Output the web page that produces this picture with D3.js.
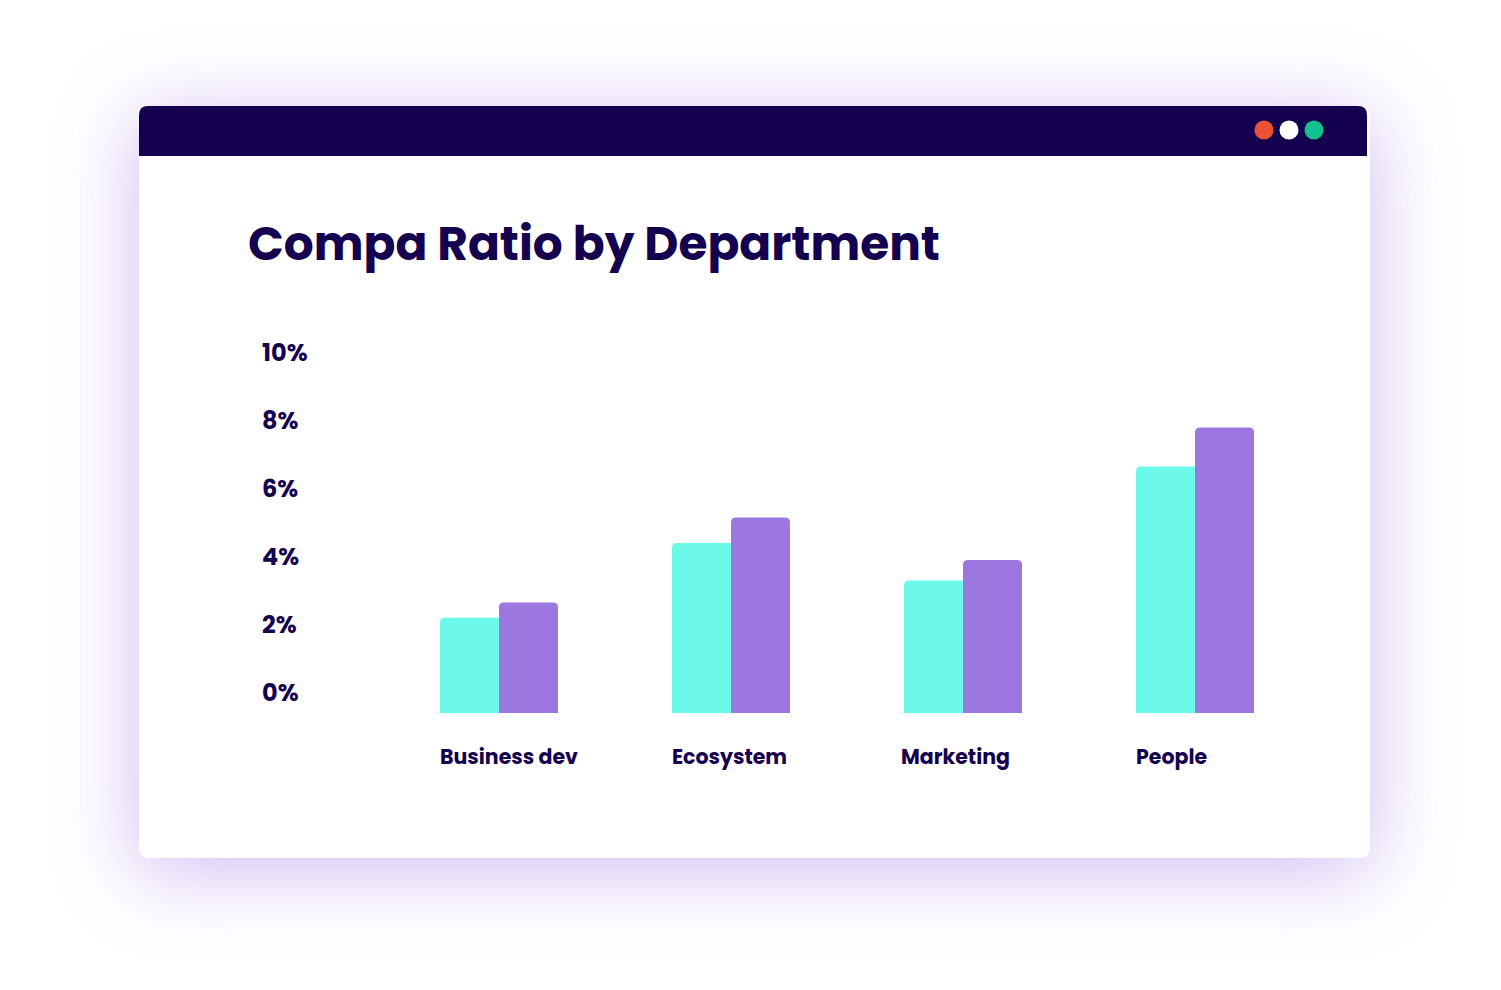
<!DOCTYPE html>
<html><head><meta charset="utf-8">
<script src="https://cdn.jsdelivr.net/npm/d3@7"></script>
<style>html,body{margin:0;padding:0;background:#fff;}svg{display:block;}</style>
</head><body>
<script>
const categories = ["Business dev", "Ecosystem", "Marketing", "People"];
const series1 = [2.8, 5.0, 3.9, 7.25];   // cyan
const series2 = [3.25, 5.75, 4.5, 8.4];  // purple
const yTicks = [0, 2, 4, 6, 8, 10];
const title = "Compa Ratio by Department";

const W = 1501, H = 990;
const navy = "#14004f";
const svg = d3.select("body").append("svg").attr("width", W).attr("height", H);
const font = "'Poppins','Open Sans','Noto Sans',sans-serif";

const defs = svg.append("defs");
const f = defs.append("filter").attr("id","glow").attr("x","-30%").attr("y","-30%").attr("width","160%").attr("height","160%");
f.append("feGaussianBlur").attr("stdDeviation", 40);

// shadow
svg.append("rect").attr("x",135).attr("y",115).attr("width",1239).attr("height",758).attr("rx",20)
  .attr("fill","#c2aaf0").attr("opacity",0.75).attr("filter","url(#glow)");
// card body
svg.append("rect").attr("x",139).attr("y",106).attr("width",1231).attr("height",752).attr("rx",9).attr("fill","#fff");
// header
svg.append("path").attr("fill",navy)
  .attr("d","M139,156 V115 Q139,106 148,106 H1358 Q1367,106 1367,115 V156 Z");
[["#ee5233",1264],["#ffffff",1289],["#12c18d",1314]].forEach(([c,x])=>{
  svg.append("circle").attr("cx",x).attr("cy",130).attr("r",9.5).attr("fill",c);
});

// title
const t = svg.append("text").attr("x",248).attr("y",260).attr("fill",navy)
  .attr("font-family",font).attr("font-weight",700).attr("font-size",46).text(title);
const tw = t.node().getComputedTextLength();
t.attr("font-size", 46*692/tw);

// scales
const y = d3.scaleLinear().domain([0,10]).range([713,373]);
const x0 = d3.scaleBand().domain(categories).range([440, 440+232*4]).paddingInner(0).paddingOuter(0);
const barW = 59;

// y labels
svg.append("g").selectAll("text").data(yTicks).join("text")
  .attr("x",262).attr("y",d=>y(d)-20+8)
  .attr("fill",navy).attr("font-family",font).attr("font-weight",700).attr("font-size",24)
  .text(d=>d+"%");

function topRounded(x,yTop,w,h,rl,rr){
  return `M${x},${yTop+h} V${yTop+rl} Q${x},${yTop} ${x+rl},${yTop} H${x+w-rr} Q${x+w},${yTop} ${x+w},${yTop+rr} V${yTop+h} Z`;
}

const labelDx = [0, 0, -3, 0];
const g = svg.append("g");
categories.forEach((c,i)=>{
  const gx = x0(c);
  const v1 = series1[i], v2 = series2[i];
  g.append("path").attr("fill","#6cf9e8")
    .attr("d", topRounded(gx, y(v1), barW, y(0)-y(v1), 5, 0));
  g.append("path").attr("fill","#9b77df")
    .attr("d", topRounded(gx+barW, y(v2), barW, y(0)-y(v2), 5, 5));
  g.append("text").attr("x",gx+labelDx[i]).attr("y",764).attr("fill",navy)
    .attr("font-family",font).attr("font-weight",700).attr("font-size",20.5).text(c);
});
</script>
</body></html>
